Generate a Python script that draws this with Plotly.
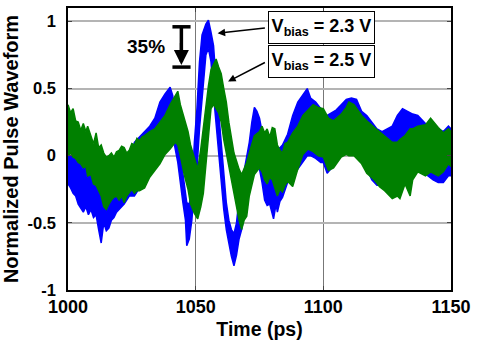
import plotly.graph_objects as go

# ---- data (band envelopes of the noisy waveforms) ----
blue_t = [1000, 1001, 1002, 1003, 1004, 1006, 1007, 1008, 1009, 1010, 1011, 1012, 1013, 1014, 1015, 1016,
          1017, 1018, 1019, 1020, 1022, 1024,
          1026, 1028, 1030, 1032, 1034, 1036, 1038, 1040, 1041, 1042, 1043, 1044, 1045, 1046,
          1046.5, 1047.5, 1048.5, 1049.5, 1050.5, 1051.5, 1052.5, 1054, 1055, 1056, 1057, 1058,
          1059, 1060, 1061, 1062, 1063, 1064, 1065, 1066, 1067, 1068, 1069, 1070, 1071, 1072,
          1073, 1074, 1075, 1076, 1077, 1078, 1079, 1080.5, 1081.5, 1082, 1083, 1084, 1086, 1088, 1090, 1092,
          1093.7, 1095, 1097, 1099, 1100, 1101.5, 1103, 1105, 1107, 1109, 1111, 1113, 1115,
          1117, 1119, 1121, 1123, 1125, 1127, 1129, 1131, 1133, 1135, 1137, 1139, 1141, 1143,
          1145, 1147, 1149, 1150]
blue_lo = [-0.21, -0.24, -0.28, -0.30, -0.36, -0.42, -0.38, -0.44, -0.40, -0.46, -0.44, -0.55, -0.65, -0.50, -0.56, -0.54,
           -0.48, -0.46, -0.42, -0.40, -0.36, -0.30,
           -0.30, -0.24, -0.18, -0.10, -0.06, 0.05, 0.12, 0.18, 0.15, 0.05, -0.05, -0.20, -0.35, -0.48,
           -0.67, -0.62, -0.48, -0.25, -0.10, 0.20, 0.45, 0.75, 0.80, 0.70, 0.45, 0.20,
           0.00, -0.20, -0.40, -0.55, -0.65, -0.75, -0.82, -0.74, -0.62, -0.55, -0.45, -0.30, -0.20, -0.05,
           0.05, 0.00, -0.10, -0.20, -0.33, -0.37, -0.36, -0.47, -0.36, -0.42, -0.34, -0.31, -0.20, -0.15, -0.10, -0.05,
           0.00, 0.00, -0.02, -0.05, -0.05, -0.13, -0.10, -0.05, 0.00, 0.02, 0.03, 0.02, -0.02,
           -0.10, -0.18, -0.22, -0.22, -0.20, -0.20, -0.18, -0.15, -0.12, -0.10, -0.10, -0.12, -0.15, -0.18,
           -0.20, -0.20, -0.15, -0.15]
blue_hi = [0.02, 0.00, 0.00, -0.02, -0.04, -0.10, -0.08, -0.12, -0.10, -0.15, -0.14, -0.20, -0.25, -0.22, -0.24, -0.24,
           -0.22, -0.22, -0.20, -0.18, -0.12, -0.05,
           0.10, 0.14, 0.18, 0.22, 0.28, 0.40, 0.46, 0.51, 0.45, 0.30, 0.15, 0.00, -0.12, -0.28,
           -0.35, -0.36, -0.25, 0.10, 0.35, 0.70, 0.90, 0.98, 1.01, 0.92, 0.82, 0.55,
           0.32, 0.10, -0.12, -0.35, -0.48, -0.55, -0.58, -0.50, -0.32, -0.22, -0.10, -0.02, 0.10, 0.25,
           0.36, 0.33, 0.28, 0.18, 0.10, 0.08, 0.10, 0.05, 0.05, 0.05, 0.06, 0.08, 0.16, 0.30, 0.40, 0.45,
           0.50, 0.43, 0.40, 0.35, 0.30, 0.30, 0.32, 0.34, 0.38, 0.42, 0.43, 0.42, 0.33,
           0.30, 0.25, 0.20, 0.18, 0.20, 0.22, 0.30, 0.35, 0.33, 0.31, 0.30, 0.26, 0.22, 0.20,
           0.20, 0.18, 0.22, 0.20]

green_t = [1000, 1001, 1002, 1003, 1004, 1005, 1006, 1007, 1007.7, 1009, 1010, 1011, 1012, 1013, 1014, 1015, 1016,
           1017, 1018, 1019, 1020, 1021, 1022, 1023, 1024, 1025, 1026, 1027, 1028, 1029, 1030, 1032, 1034,
           1036, 1038, 1040, 1042, 1043, 1044,
           1045.5, 1047, 1048, 1049.5, 1050.8, 1052, 1053, 1054, 1055, 1056, 1057, 1058, 1059,
           1060, 1061, 1062, 1063, 1064, 1065, 1066, 1067, 1068, 1069, 1070, 1071, 1073, 1075,
           1076, 1077, 1078, 1079, 1080, 1081, 1082, 1083, 1084, 1085, 1086, 1088, 1090, 1092, 1094, 1096,
           1098, 1100, 1102, 1104, 1107, 1109, 1110, 1112, 1115, 1117, 1120, 1122, 1124, 1126, 1127, 1129, 1130,
           1132, 1134, 1135, 1137, 1140, 1142, 1145, 1147, 1149, 1150]
green_lo = [0.00, 0.02, -0.01, -0.02, -0.05, -0.06, -0.09, -0.08, -0.15, -0.14, -0.21, -0.22, -0.26, -0.30, -0.38, -0.40, -0.36,
            -0.33, -0.31, -0.30, -0.33, -0.30, -0.35, -0.30, -0.28, -0.25, -0.28, -0.26, -0.26, -0.25, -0.24, -0.16, -0.11,
            -0.06, 0.01, 0.05, 0.10, 0.08, 0.00,
            -0.14, -0.25, -0.36, -0.43, -0.47, -0.38, -0.28, -0.05, 0.15, 0.35, 0.38, 0.35, 0.32,
            0.25, 0.12, 0.03, -0.08, -0.19, -0.30, -0.38, -0.48, -0.55, -0.48, -0.45, -0.30, -0.14, -0.09,
            -0.12, -0.18, -0.21, -0.16, -0.18, -0.24, -0.30, -0.25, -0.27, -0.22, -0.19, -0.23, -0.10, 0.01, 0.05, 0.03,
            0.00, -0.01, -0.11, -0.09, -0.01, 0.01, 0.00, 0.00, -0.06, -0.13, -0.18, -0.23, -0.26, -0.30, -0.32, -0.30, -0.32,
            -0.21, -0.30, -0.18, -0.12, -0.15, -0.12, -0.15, -0.12, -0.06, -0.08]
green_hi = [0.38, 0.32, 0.35, 0.26, 0.25, 0.19, 0.24, 0.18, 0.22, 0.14, 0.09, 0.17, 0.06, 0.08, 0.02, -0.01, 0.00,
            0.02, -0.01, 0.03, 0.04, 0.07, 0.06, 0.02, 0.04, 0.09, 0.08, 0.13, 0.11, 0.14, 0.15, 0.18, 0.20,
            0.25, 0.30, 0.38, 0.45, 0.48, 0.38,
            0.28, 0.18, 0.08, -0.02, -0.10, 0.05, 0.22, 0.40, 0.52, 0.64, 0.68, 0.72, 0.66,
            0.61, 0.50, 0.40, 0.25, 0.15, 0.02, -0.04, -0.10, -0.14, -0.10, -0.05, 0.02, 0.15, 0.18,
            0.22, 0.17, 0.20, 0.14, 0.21, 0.20, 0.08, 0.04, 0.02, 0.09, 0.10, 0.17, 0.22, 0.30, 0.34, 0.38,
            0.36, 0.35, 0.28, 0.26, 0.31, 0.36, 0.40, 0.38, 0.30, 0.26, 0.21, 0.18, 0.15, 0.12, 0.10, 0.10, 0.12,
            0.15, 0.20, 0.20, 0.22, 0.23, 0.28, 0.21, 0.17, 0.20, 0.18]

x_ticks = [1000, 1050, 1100, 1150]
y_ticks = [-1, -0.5, 0, 0.5, 1]
y_tick_text = ["-1", "-0.5", "0", "0.5", "1"]
labels = ["V<sub>bias</sub> = 2.3 V", "V<sub>bias</sub> = 2.5 V"]
drop_text = "35%"

FONT = "Liberation Sans, Arial, sans-serif"


def band(t, lo, hi, color, name):
    return go.Scatter(
        x=list(t) + list(t[::-1]),
        y=list(hi) + list(lo[::-1]),
        fill="toself", fillcolor=color, mode="lines",
        line=dict(color=color, width=1.5), name=name,
        hoverinfo="skip", showlegend=False,
    )


fig = go.Figure()
fig.add_trace(band(blue_t, blue_lo, blue_hi, "#0000ff", "2.3 V"))
fig.add_trace(band(green_t, green_lo, green_hi, "#008000", "2.5 V"))

fig.update_layout(
    width=477, height=343,
    margin=dict(l=68, r=20, t=6, b=48),
    paper_bgcolor="white", plot_bgcolor="white",
    font=dict(family=FONT, size=18, color="black", weight="bold"),
    xaxis=dict(
        range=[1000, 1150], tickvals=x_ticks, ticks="inside", ticklen=4,
        showline=True, linecolor="black", linewidth=1.5, mirror="allticks",
        showgrid=True, gridcolor="#777777", gridwidth=1, zeroline=False,
        tickfont=dict(size=18, family=FONT, weight="bold"),
        title=dict(text="Time (ps)", font=dict(size=19.5, family=FONT, weight="bold"), standoff=6),
    ),
    yaxis=dict(
        range=[-1, 1.1], tickvals=y_ticks, ticktext=y_tick_text, ticks="inside", ticklen=4,
        showline=True, linecolor="black", linewidth=1.5, mirror="allticks",
        showgrid=True, gridcolor="#b4b4b4", gridwidth=1.5, zeroline=False,
        tickfont=dict(size=16.5, family=FONT, weight="bold"), ticklabelstandoff=7,
        title=dict(text="Normalized Pulse Waveform", font=dict(size=20, family=FONT, weight="bold"), standoff=5),
    ),
)

# 35% drop marker
fig.add_shape(type="line", x0=1044.4, x1=1044.4, y0=0.96, y1=0.70, xref="x", yref="y",
              line=dict(color="black", width=3.5))
fig.add_shape(type="line", x0=1040.9, x1=1048.0, y0=0.96, y1=0.96, xref="x", yref="y",
              line=dict(color="black", width=3.5))
fig.add_shape(type="line", x0=1040.9, x1=1048.0, y0=0.66, y1=0.66, xref="x", yref="y",
              line=dict(color="black", width=3.5))
fig.add_annotation(x=1044.4, y=0.675, ax=1044.4, ay=0.85, xref="x", yref="y", axref="x", ayref="y",
                   text="", showarrow=True, arrowhead=2, arrowsize=1.0, arrowwidth=3, arrowcolor="black")
fig.add_annotation(x=1030.7, y=0.81, xref="x", yref="y", text=drop_text, showarrow=False,
                   font=dict(size=19, family=FONT, weight="bold"))

# label boxes
for lab, yy in zip(labels, [0.952, 0.70]):
    fig.add_annotation(x=1099.4, y=yy, xref="x", yref="y", text=lab, showarrow=False,
                       bgcolor="white", bordercolor="black", borderwidth=1, borderpad=2,
                       width=101, height=27, font=dict(size=18, family=FONT, weight="bold"))

# arrows from boxes to peaks
fig.add_annotation(x=1058.6, y=0.912, ax=1077.7, ay=0.952, xref="x", yref="y", axref="x", ayref="y",
                   text="", showarrow=True, arrowhead=2, arrowsize=1.0, arrowwidth=1.5, arrowcolor="black")
fig.add_annotation(x=1062.7, y=0.553, ax=1077.7, ay=0.70, xref="x", yref="y", axref="x", ayref="y",
                   text="", showarrow=True, arrowhead=2, arrowsize=1.0, arrowwidth=1.5, arrowcolor="black")

fig.write_html("out.html")
